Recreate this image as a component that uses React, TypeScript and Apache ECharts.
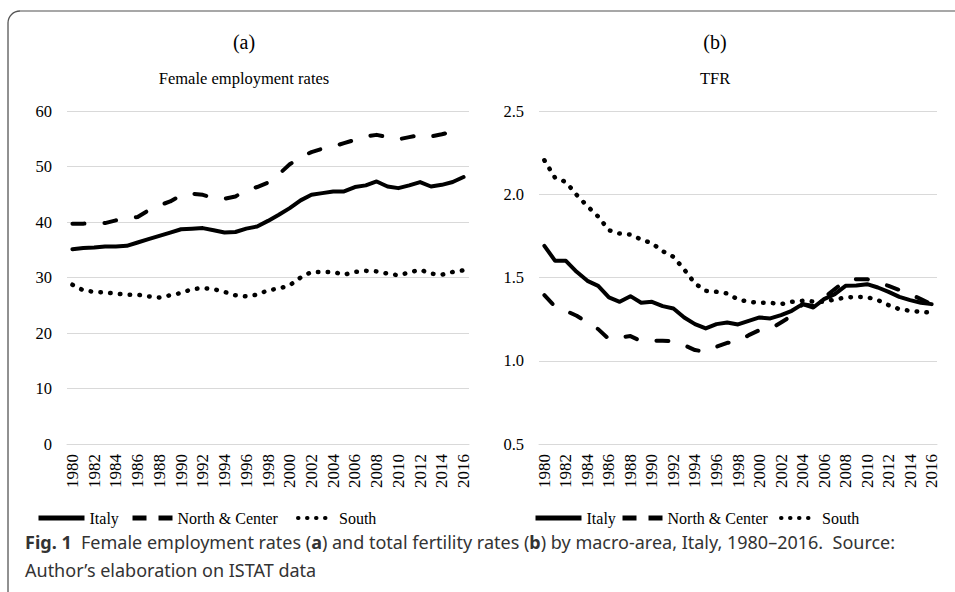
import React, { useEffect, useRef } from "react";
import * as echarts from "echarts";

const years = [
  "1980","1981","1982","1983","1984","1985","1986","1987","1988","1989",
  "1990","1991","1992","1993","1994","1995","1996","1997","1998","1999",
  "2000","2001","2002","2003","2004","2005","2006","2007","2008","2009",
  "2010","2011","2012","2013","2014","2015","2016",
];

const empItaly = [35.1,35.3,35.4,35.6,35.6,35.7,36.3,36.9,37.5,38.1,38.7,38.8,38.9,38.5,38.1,38.2,38.8,39.2,40.2,41.3,42.5,43.9,44.9,45.2,45.5,45.5,46.3,46.6,47.3,46.4,46.1,46.6,47.2,46.4,46.7,47.2,48.1];
const empNorthCenter = [39.7,39.7,39.8,39.8,40.3,40.6,40.9,42.1,43.0,43.7,44.8,45.1,44.9,44.3,44.2,44.6,45.7,46.3,47.1,48.6,50.4,51.7,52.6,53.2,53.6,54.2,54.8,55.4,55.7,55.3,54.9,55.3,55.7,55.4,55.8,56.3,57.2];
const empSouth = [28.7,27.7,27.4,27.3,27.1,26.9,26.9,26.6,26.4,26.8,27.2,27.9,28.1,27.9,27.4,26.8,26.6,26.9,27.7,28.0,28.6,30.0,31.0,31.0,31.0,30.5,31.0,31.2,31.1,30.7,30.4,30.9,31.4,30.7,30.5,31.0,31.3];

const tfrItaly = [1.69,1.60,1.60,1.534,1.48,1.45,1.38,1.354,1.388,1.348,1.354,1.328,1.314,1.26,1.22,1.194,1.22,1.23,1.218,1.24,1.26,1.254,1.274,1.30,1.34,1.32,1.37,1.40,1.45,1.452,1.46,1.44,1.414,1.384,1.364,1.348,1.34];
const tfrNorthCenter = [1.394,1.324,1.30,1.27,1.23,1.19,1.13,1.14,1.148,1.118,1.12,1.12,1.118,1.094,1.064,1.054,1.084,1.108,1.114,1.154,1.184,1.19,1.23,1.27,1.34,1.33,1.38,1.43,1.48,1.49,1.49,1.47,1.45,1.425,1.40,1.37,1.34];
const tfrSouth = [2.204,2.098,2.074,1.996,1.928,1.866,1.784,1.764,1.758,1.728,1.706,1.658,1.624,1.548,1.464,1.42,1.414,1.404,1.368,1.354,1.348,1.348,1.34,1.354,1.36,1.356,1.354,1.368,1.38,1.384,1.382,1.364,1.334,1.31,1.30,1.294,1.288];

const seriesNames = ["Italy", "North & Center", "South"];
const empTicks = { min: 0, max: 60, interval: 10 };
const tfrTicks = { min: 0.5, max: 2.5, interval: 0.5 };

const captionLine1 = "{b|Fig. 1}  Female employment rates ({b|a}) and total fertility rates ({b|b}) by macro-area, Italy, 1980–2016.  Source:";
const captionLine2 = "Author’s elaboration on ISTAT data";

const SERIF = "'Liberation Serif', 'Times New Roman', serif";
const SANS = "'Noto Sans', sans-serif";

const lineStyles = [
  { color: "#000", width: 4, type: "solid" as any, cap: "round" as any, join: "round" as any },
  { color: "#000", width: 4, type: [12, 20] as any, cap: "round" as any, join: "round" as any },
  { color: "#000", width: 4.5, type: [0.5, 9.3] as any, cap: "round" as any, join: "round" as any },
];

const legendLineStyles = [
  { color: "#000", width: 5, type: "solid" as any, cap: "butt" as any },
  { color: "#000", width: 5, type: [14, 12] as any, cap: "butt" as any },
  { color: "#000", width: 4, type: [0.5, 8.5] as any, cap: "round" as any },
];
const legendIconWidths = [46, 40, 36];

export default function App() {
  const ref = useRef<HTMLDivElement>(null);
  useEffect(() => {
    if (!ref.current) return;
    const chart = echarts.init(ref.current, null, { renderer: "svg" });

    const xAxisBase = (gridIndex: number) => ({
      type: "category",
      gridIndex,
      data: years,
      boundaryGap: true,
      axisLine: { show: true, lineStyle: { color: "#d9d9d9", width: 1 } },
      axisTick: { show: false },
      axisLabel: {
        rotate: 90,
        interval: 1,
        margin: 10,
        fontFamily: SERIF,
        fontSize: 17,
        color: "#000",
      },
    });
    const yAxisBase = (gridIndex: number, t: any, fmt: (v: number) => string) => ({
      type: "value",
      gridIndex,
      min: t.min,
      max: t.max,
      interval: t.interval,
      axisLine: { show: false },
      axisTick: { show: false },
      splitLine: { lineStyle: { color: "#d9d9d9", width: 1 } },
      axisLabel: {
        margin: 15,
        fontFamily: SERIF,
        fontSize: 16.5,
        color: "#000",
        formatter: fmt,
      },
    });

    const mk = (name: string, data: number[], idx: number, axis: number) => ({
      name,
      type: "line",
      xAxisIndex: axis,
      yAxisIndex: axis,
      data,
      symbol: "none",
      showSymbol: false,
      lineStyle: lineStyles[idx],
      itemStyle: { color: "#000" },
      z: 3 - idx,
    });

    const legendItem = (idx: number, left: number) => ({
      left,
      top: 510,
      padding: 0,
      itemWidth: legendIconWidths[idx],
      itemHeight: 14,
      selectedMode: false,
      itemStyle: { opacity: 0 },
      data: [{ name: seriesNames[idx], lineStyle: legendLineStyles[idx], itemStyle: { opacity: 0 } }],
      textStyle: { fontFamily: SERIF, fontSize: 16, color: "#000" },
    });

    chart.setOption({
      animation: false,
      backgroundColor: "#fff",
      textStyle: { fontFamily: SERIF },
      grid: [
        { left: 67, top: 111, width: 402, height: 333 },
        { left: 539, top: 111, width: 398, height: 333 },
      ],
      xAxis: [xAxisBase(0), xAxisBase(1)],
      yAxis: [
        yAxisBase(0, empTicks, (v: number) => String(v)),
        yAxisBase(1, tfrTicks, (v: number) => v.toFixed(1)),
      ],
      legend: [
        legendItem(0, 36), legendItem(1, 130), legendItem(2, 296),
        legendItem(0, 533), legendItem(1, 620), legendItem(2, 779),
      ],
      series: [
        mk(seriesNames[0], empItaly, 0, 0),
        mk(seriesNames[1], empNorthCenter, 1, 0),
        mk(seriesNames[2], empSouth, 2, 0),
        mk(seriesNames[0], tfrItaly, 0, 1),
        mk(seriesNames[1], tfrNorthCenter, 1, 1),
        mk(seriesNames[2], tfrSouth, 2, 1),
      ],
      graphic: [
        { type: "line", shape: { x1: 20, y1: 11, x2: 955, y2: 11 }, style: { stroke: "#8a8a8a", lineWidth: 1.5 } },
        { type: "arc", shape: { cx: 20, cy: 23, r: 12, startAngle: Math.PI, endAngle: Math.PI * 1.5 }, style: { stroke: "#555", lineWidth: 1.3, fill: "none" } },
        { type: "line", shape: { x1: 8, y1: 23, x2: 8, y2: 592 }, style: { stroke: "#222", lineWidth: 1 } },
        { type: "text", x: 244, y: 42, style: { text: "(a)", textAlign: "center", textVerticalAlign: "middle", fontFamily: SERIF, fontSize: 20, fill: "#000" } },
        { type: "text", x: 715, y: 42, style: { text: "(b)", textAlign: "center", textVerticalAlign: "middle", fontFamily: SERIF, fontSize: 20, fill: "#000" } },
        { type: "text", x: 244, y: 78, style: { text: "Female employment rates", textAlign: "center", textVerticalAlign: "middle", fontFamily: SERIF, fontSize: 16.5, fill: "#000" } },
        { type: "text", x: 715, y: 78, style: { text: "TFR", textAlign: "center", textVerticalAlign: "middle", fontFamily: SERIF, fontSize: 16.5, fill: "#000" } },
        {
          type: "text",
          x: 25,
          y: 542,
          style: {
            text: captionLine1,
            textVerticalAlign: "middle",
            fontFamily: SANS,
            fontSize: 18,
            fill: "#333",
            rich: { b: { fontFamily: SANS, fontSize: 18, fontWeight: "bold", fill: "#333" } },
          },
        },
        { type: "text", x: 25, y: 570, style: { text: captionLine2, textVerticalAlign: "middle", fontFamily: SANS, fontSize: 18, fill: "#333" } },
      ],
    });
    return () => chart.dispose();
  }, []);
  return <div ref={ref} style={{ position: "fixed", left: 0, top: 0, width: 955, height: 592 }} />;
}
